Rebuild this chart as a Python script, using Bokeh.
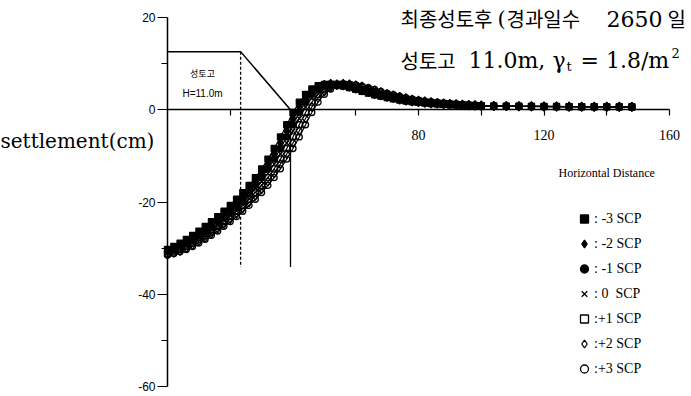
from bokeh.plotting import figure
from bokeh.models import Range1d, FixedTicker, Label, Legend, LegendItem
from bokeh.embed import file_html
from bokeh.resources import INLINE

# ---------------- data ----------------
DIST = [0, 2, 4, 6, 8, 10, 12, 14, 16, 18, 20, 22, 24, 26, 28, 30, 32, 34, 36, 38,
        40, 42, 44, 46, 48, 50, 52, 54, 56, 58, 60, 62, 64, 66, 68, 70, 72, 74, 76, 78,
        80, 82, 84, 86, 88, 90, 92, 94, 96, 98, 100,
        104, 108, 112, 116, 120, 124, 128, 132, 136, 140, 144, 148]

SCP_M3 = [-30.3, -29.65, -28.9, -28.1, -27.25, -26.3, -25.3, -24.25, -23.15, -22.0,
          -20.75, -19.4, -17.95, -16.4, -14.7, -12.8, -10.7, -8.4, -5.9, -3.25,
          -0.6, 1.65, 3.35, 4.5, 5.2, 5.5, 5.55, 5.4, 5.15, 4.8,
          4.4, 4.0, 3.6, 3.25, 2.95, 2.65, 2.35, 2.1, 1.9, 1.72,
          1.58, 1.45, 1.35, 1.25, 1.16, 1.08, 1.01, 0.95, 0.9, 0.87, 0.84,
          0.78, 0.75, 0.72, 0.7, 0.68, 0.66, 0.65, 0.64, 0.63, 0.62, 0.61, 0.6]
SCP_M2 = [-30.6, -30.0, -29.3, -28.5, -27.7, -26.8, -25.8, -24.8, -23.7, -22.6,
          -21.4, -20.1, -18.7, -17.2, -15.6, -13.8, -11.8, -9.6, -7.2, -4.6,
          -1.9, 0.6, 2.6, 4.0, 4.9, 5.4, 5.6, 5.5, 5.3, 5.0,
          4.6, 4.2, 3.8, 3.4, 3.1, 2.8, 2.5, 2.2, 2.0, 1.8,
          1.65, 1.5, 1.4, 1.3, 1.2, 1.12, 1.05, 0.98, 0.93, 0.88, 0.85,
          0.79, 0.76, 0.73, 0.71, 0.69, 0.67, 0.66, 0.65, 0.64, 0.63, 0.62, 0.61]
SCP_M1 = [-30.8, -30.3, -29.65, -28.9, -28.1, -27.25, -26.3, -25.3, -24.25, -23.15,
          -22.0, -20.75, -19.4, -17.95, -16.4, -14.7, -12.8, -10.7, -8.4, -5.9,
          -3.25, -0.6, 1.65, 3.35, 4.5, 5.2, 5.5, 5.55, 5.4, 5.15,
          4.8, 4.4, 4.0, 3.6, 3.25, 2.95, 2.65, 2.35, 2.1, 1.9,
          1.72, 1.58, 1.45, 1.35, 1.25, 1.16, 1.08, 1.01, 0.95, 0.9, 0.87,
          0.8, 0.77, 0.74, 0.72, 0.7, 0.68, 0.67, 0.66, 0.65, 0.64, 0.63, 0.62]
SCP_0 = [-31.0, -30.6, -30.0, -29.3, -28.5, -27.7, -26.8, -25.8, -24.8, -23.7,
         -22.6, -21.4, -20.1, -18.7, -17.2, -15.6, -13.8, -11.8, -9.6, -7.2,
         -4.6, -1.9, 0.6, 2.6, 4.0, 4.9, 5.4, 5.6, 5.5, 5.3,
         5.0, 4.6, 4.2, 3.8, 3.4, 3.1, 2.8, 2.5, 2.2, 2.0,
         1.8, 1.65, 1.5, 1.4, 1.3, 1.2, 1.12, 1.05, 0.98, 0.93, 0.88,
         0.81, 0.78, 0.75, 0.73, 0.71, 0.69, 0.68, 0.67, 0.66, 0.65, 0.64, 0.63]
SCP_P1 = [-31.2, -30.8, -30.3, -29.65, -28.9, -28.1, -27.25, -26.3, -25.3, -24.25,
          -23.15, -22.0, -20.75, -19.4, -17.95, -16.4, -14.7, -12.8, -10.7, -8.4,
          -5.9, -3.25, -0.6, 1.65, 3.35, 4.5, 5.2, 5.5, 5.55, 5.4,
          5.15, 4.8, 4.4, 4.0, 3.6, 3.25, 2.95, 2.65, 2.35, 2.1,
          1.9, 1.72, 1.58, 1.45, 1.35, 1.25, 1.16, 1.08, 1.01, 0.95, 0.9,
          0.82, 0.79, 0.76, 0.74, 0.72, 0.7, 0.69, 0.68, 0.67, 0.66, 0.65, 0.64]
SCP_P2 = [-31.35, -31.0, -30.6, -30.0, -29.3, -28.5, -27.7, -26.8, -25.8, -24.8,
          -23.7, -22.6, -21.4, -20.1, -18.7, -17.2, -15.6, -13.8, -11.8, -9.6,
          -7.2, -4.6, -1.9, 0.6, 2.6, 4.0, 4.9, 5.4, 5.6, 5.5,
          5.3, 5.0, 4.6, 4.2, 3.8, 3.4, 3.1, 2.8, 2.5, 2.2,
          2.0, 1.8, 1.65, 1.5, 1.4, 1.3, 1.2, 1.12, 1.05, 0.98, 0.93,
          0.84, 0.8, 0.77, 0.75, 0.73, 0.71, 0.7, 0.69, 0.68, 0.67, 0.66, 0.65]
SCP_P3 = [-31.5, -31.2, -30.8, -30.3, -29.65, -28.9, -28.1, -27.25, -26.3, -25.3,
          -24.25, -23.15, -22.0, -20.75, -19.4, -17.95, -16.4, -14.7, -12.8, -10.7,
          -8.4, -5.9, -3.25, -0.6, 1.65, 3.35, 4.5, 5.2, 5.5, 5.55,
          5.4, 5.15, 4.8, 4.4, 4.0, 3.6, 3.25, 2.95, 2.65, 2.35,
          2.1, 1.9, 1.72, 1.58, 1.45, 1.35, 1.25, 1.16, 1.08, 1.01, 0.95,
          0.86, 0.82, 0.78, 0.76, 0.74, 0.72, 0.71, 0.7, 0.69, 0.68, 0.67, 0.66]

SERIES = [SCP_M3, SCP_M2, SCP_M1, SCP_0, SCP_P1, SCP_P2, SCP_P3]
SERIES_LABELS = [": -3 SCP", ": -2 SCP", ": -1 SCP", ": 0  SCP", ":+1 SCP", ":+2 SCP", ":+3 SCP"]

# embankment outline (distance, height)
EMB_X = [0, 23.3, 39.2]
EMB_Y = [12.6, 12.6, 0.0]
SHOULDER_X = 23.3
TOE_X = 39.2
GUIDE_BOTTOM = -34.1

X_TICKS = [20, 40, 60, 80, 100, 120, 140, 160]
X_TICK_LABELS = {80: "80", 120: "120", 160: "160"}
Y_TICKS = [-60, -40, -20, 0, 20]
Y_TICK_LABELS = {-60: "-60", -40: "-40", -20: "-20", 0: "0", 20: "20"}
Y_MINOR = [10, -30, -50]

# ---------------- layout (pixel placement of the axes box) ----------------
W, H = 691, 396
LEFT, RIGHT, TOP, BOTTOM = 167, 669, 17, 386
XMIN, XMAX, YMIN, YMAX = 0, 160, -60, 20


def at_x(px):
    return XMIN + (px - LEFT) * (XMAX - XMIN) / (RIGHT - LEFT)


def at_y(py):
    return YMAX - (py - TOP) * (YMAX - YMIN) / (BOTTOM - TOP)


p = figure(width=W, height=H, output_backend="svg", toolbar_location=None,
           x_range=Range1d(at_x(0), at_x(W)), y_range=Range1d(at_y(H), at_y(0)),
           min_border_left=0, min_border_right=0, min_border_top=0, min_border_bottom=0)
p.title.visible = False
p.outline_line_color = None
p.xgrid.visible = False
p.ygrid.visible = False
p.background_fill_color = "white"
p.border_fill_color = "white"

# x axis on y = 0
xa = p.xaxis[0]
xa.fixed_location = 0
xa.bounds = (XMIN, XMAX)
xa.ticker = FixedTicker(ticks=X_TICKS, minor_ticks=[])
xa.major_label_overrides = {t: X_TICK_LABELS.get(t, "") for t in X_TICKS}
xa.axis_line_width = 1.5
xa.major_tick_line_width = 1.2
xa.major_tick_out = 6
xa.major_tick_in = 0
xa.minor_tick_out = 0
xa.major_label_standoff = 14
xa.major_label_text_font = "Liberation Serif"
xa.major_label_text_font_size = "14px"
xa.major_label_text_color = "black"

# y axis on x = 0
ya = p.yaxis[0]
ya.fixed_location = 0
ya.bounds = (YMIN, YMAX)
ya.ticker = FixedTicker(ticks=Y_TICKS, minor_ticks=Y_MINOR)
ya.major_label_overrides = Y_TICK_LABELS
ya.axis_line_width = 1.5
ya.major_tick_line_width = 1.2
ya.minor_tick_line_width = 1.2
ya.major_tick_out = 10
ya.major_tick_in = 0
ya.minor_tick_out = 6
ya.minor_tick_in = 0
ya.major_label_standoff = 2
ya.major_label_text_font = "Liberation Sans"
ya.major_label_text_font_size = "12px"
ya.major_label_text_color = "black"

# embankment
p.line(EMB_X, EMB_Y, line_color="black", line_width=1.5)
p.line([SHOULDER_X, SHOULDER_X], [EMB_Y[1], GUIDE_BOTTOM], line_color="black",
       line_width=1.3, line_dash="3 2")
p.line([TOE_X, TOE_X], [EMB_Y[2], GUIDE_BOTTOM], line_color="black", line_width=1.3)

# series
MARKERS = [("square", "black", 6), ("diamond", "black", 9), ("circle", "black", 6),
           ("x", None, 7), ("square", None, 6), ("diamond", None, 9), ("circle", None, 6)]
for ys in SERIES:
    p.line(DIST, ys, line_color="black", line_width=1.2)
items = []
for ys, (mk, fill, sz), lab in zip(SERIES, MARKERS, SERIES_LABELS):
    r = p.scatter(DIST, ys, marker=mk, size=sz, line_color="black", line_width=1.3,
                  fill_color=fill)
    items.append(LegendItem(label=lab, renderers=[r]))

legend = Legend(items=items, location=(574, 17), orientation="vertical",
                glyph_width=20, glyph_height=21, label_height=21, spacing=4,
                padding=0, margin=0, label_standoff=0,
                border_line_color=None, background_fill_alpha=0,
                label_text_font="Liberation Serif", label_text_font_size="14px",
                label_text_color="black")
p.add_layout(legend)

# texts
KR = "Noto Sans CJK KR"
SERIF = "DejaVu Serif"


def add_label(px, py, text, size, font=SERIF, align="left"):
    p.add_layout(Label(x=at_x(px), y=at_y(py), text=text, text_font=font,
                       text_font_size=size, text_align=align,
                       text_baseline="middle", text_color="black"))


add_label(0, 140, "settlement(cm)", "20px")
# title line 1
add_label(400, 18, "최종성토후", "20px", font=KR)
add_label(497, 18, "(", "21px")
add_label(506, 18, "경과일수", "20px", font=KR)
add_label(606, 18, "2650", "22px")
add_label(667, 18, "일", "20px", font=KR)
# title line 2
add_label(400, 60, "성토고", "20px", font=KR)
add_label(468, 60, "11.0m,", "22px")
add_label(552, 60, "γ", "22px")
add_label(566, 66, "t", "13px")
add_label(580, 60, "= 1.8/m", "22px")
add_label(671, 52, "2", "13px")
# embankment tag
add_label(202, 73, "성토고", "9px", font=KR, align="center")
add_label(202, 93, "H=11.0m", "10px", font="Liberation Sans", align="center")
add_label(558, 172, "Horizontal Distance", "12px", font="Liberation Serif")

open("out.html", "w").write(file_html(p, INLINE))
